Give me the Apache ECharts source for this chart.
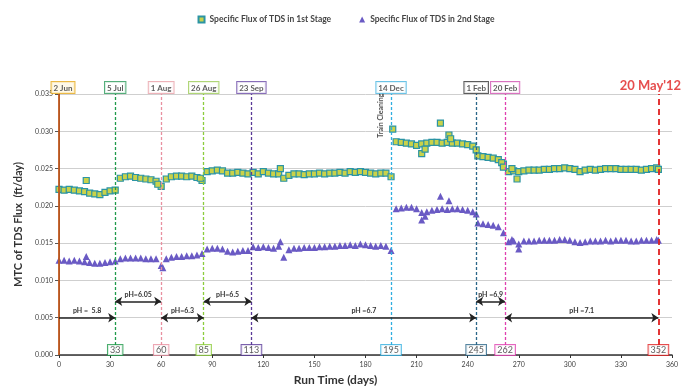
<!DOCTYPE html>
<html>
<head>
<meta charset="utf-8">
<script src="https://cdn.jsdelivr.net/npm/echarts@6/dist/echarts.min.js"></script>
<style>
  html, body { margin: 0; padding: 0; background: #fff; }
  #chart { width: 692px; height: 391px; }
</style>
</head>
<body>
<div id="chart"></div>
<script>
// 运行天数（约每3天一个点）
var days = [0, 3, 6, 9, 12, 15, 18, 21, 24, 27, 30, 33,
  36, 39, 42, 45, 48, 51, 54, 57, 60,
  63, 66, 69, 72, 75, 78, 81, 84,
  87, 90, 93, 96, 99, 102, 105, 108, 111,
  114, 117, 120, 123, 126, 129, 132, 135, 138, 141, 144, 147, 150, 153, 156, 159, 162, 165, 168, 171, 174, 177, 180, 183, 186, 189, 192, 195,
  198, 201, 204, 207, 210, 213, 216, 219, 222, 225, 228, 231, 234, 237, 240, 243,
  246, 249, 252, 255, 258, 261,
  264, 267, 270, 273, 276, 279, 282, 285, 288, 291, 294, 297, 300, 303, 306, 309, 312, 315, 318, 321, 324, 327, 330, 333, 336, 339, 342, 345, 348, 351, 352];

// 1st stage
var stage1 = [0.0222, 0.0221, 0.0222, 0.0221, 0.0220, 0.0219, 0.0217, 0.0216, 0.0215, 0.0218, 0.0220, 0.0221,
  0.0237, 0.0239, 0.0240, 0.0238, 0.0237, 0.0236, 0.0235, 0.0233, 0.0226,
  0.0236, 0.0239, 0.0240, 0.0240, 0.0239, 0.0240, 0.0238, 0.0234,
  0.0246, 0.0247, 0.0248, 0.0247, 0.0244, 0.0244, 0.0245, 0.0244, 0.0243,
  0.0245, 0.0243, 0.0246, 0.0244, 0.0243, 0.0243, 0.0237, 0.0241, 0.0243, 0.0243, 0.0242, 0.0243, 0.0243, 0.0244, 0.0243, 0.0244, 0.0244, 0.0245, 0.0244, 0.0246, 0.0245, 0.0246, 0.0245, 0.0244, 0.0243, 0.0244, 0.0244, 0.0239,
  0.0286, 0.0285, 0.0284, 0.0283, 0.0281, 0.0283, 0.0284, 0.0285, 0.0285, 0.0284, 0.0285, 0.0284, 0.0284, 0.0283, 0.0282, 0.0280,
  0.0267, 0.0266, 0.0265, 0.0264, 0.0262, 0.0256,
  0.0246, 0.0247, 0.0246, 0.0247, 0.0248, 0.0248, 0.0248, 0.0249, 0.0249, 0.0250, 0.0250, 0.0251, 0.0250, 0.0249, 0.0246, 0.0248, 0.0249, 0.0248, 0.0249, 0.0250, 0.0250, 0.0250, 0.0249, 0.0249, 0.0249, 0.0249, 0.0248, 0.0249, 0.0250, 0.0251, 0.0249];
var stage1OutDays = [16, 58, 83, 130, 196, 213, 215, 224, 229, 230, 245, 260, 261, 266, 269];
var stage1OutVals = [0.0234, 0.0229, 0.0237, 0.0250, 0.0303, 0.0270, 0.0276, 0.0311, 0.0295, 0.0290, 0.0275, 0.0258, 0.0252, 0.0250, 0.0236];

// 2nd stage
var stage2 = [0.0127, 0.0127, 0.0126, 0.0127, 0.0126, 0.0125, 0.0124, 0.0123, 0.0123, 0.0124, 0.0125, 0.0126,
  0.0129, 0.0130, 0.0130, 0.0130, 0.0130, 0.0129, 0.0129, 0.0129, 0.0120,
  0.0129, 0.0131, 0.0132, 0.0132, 0.0133, 0.0133, 0.0134, 0.0136,
  0.0142, 0.0143, 0.0143, 0.0142, 0.0139, 0.0138, 0.0139, 0.0140, 0.0140,
  0.0145, 0.0144, 0.0145, 0.0144, 0.0143, 0.0146, 0.0131, 0.0141, 0.0143, 0.0143, 0.0144, 0.0144, 0.0144, 0.0145, 0.0145, 0.0146, 0.0146, 0.0147, 0.0147, 0.0148, 0.0147, 0.0149, 0.0148, 0.0147, 0.0146, 0.0147, 0.0146, 0.0140,
  0.0196, 0.0197, 0.0198, 0.0198, 0.0196, 0.0191, 0.0192, 0.0194, 0.0195, 0.0196, 0.0195, 0.0196, 0.0196, 0.0195, 0.0194, 0.0192,
  0.0177, 0.0176, 0.0175, 0.0174, 0.0172, 0.0164,
  0.0152, 0.0153, 0.0149, 0.0153, 0.0153, 0.0153, 0.0154, 0.0154, 0.0154, 0.0154, 0.0155, 0.0155, 0.0154, 0.0152, 0.0151, 0.0152, 0.0153, 0.0153, 0.0153, 0.0154, 0.0153, 0.0154, 0.0154, 0.0154, 0.0153, 0.0153, 0.0154, 0.0154, 0.0154, 0.0155, 0.0154];
var stage2OutDays = [16, 61, 130, 213, 215, 224, 229, 245, 266, 270];
var stage2OutVals = [0.0132, 0.0117, 0.0152, 0.0181, 0.0186, 0.0213, 0.0207, 0.0189, 0.0155, 0.0142];

// 事件日期（竖线）
var markDays = [0, 33, 60, 85, 113, 195, 245, 262, 352];
var markDates = ['2 Jun', '5 Jul', '1 Aug', '26 Aug', '23 Sep', '14 Dec', '1 Feb', '20 Feb', "20 May'12"];

// pH 区间
var phStart = [0, 33, 60, 85, 113, 245, 262];
var phEnd = [33, 60, 85, 113, 245, 262, 352];
var phLevel = [0.005, 0.0072, 0.005, 0.0072, 0.005, 0.0072, 0.005];
var phText = ['pH =  5.8', 'pH=6.05', 'pH=6.3', 'pH=6.5', 'pH =6.7', 'pH =6.9', 'pH =7.1'];

var cleanDay = 189, cleanVal = 0.0321;

var yMax = 0.035;
var name1 = 'Specific Flux of TDS in 1st Stage';
var name2 = 'Specific Flux of TDS in 2nd Stage';

// 样式
var lineColors = ['#c0581e', '#1f9a4a', '#e890a0', '#8ccc3c', '#5a3a98', '#30aee0', '#2a6688', '#e040b0', '#e02020'];
var topBoxColors = ['#e6a817', '#2a9a5a', '#e8a0a8', '#9ccc55', '#6a4aa8', '#46b4e0', '#333333', '#d050b0', null];
var font = 'Lato, "Open Sans", sans-serif';

function pairs(xs, ys) {
  return xs.map(function (x, i) { return [x, ys[i]]; });
}

var chart = echarts.init(document.getElementById('chart'));

var vLines = markDays.map(function (d, i) {
  return {
    xAxis: d,
    lineStyle: {
      color: lineColors[i],
      type: i === 0 ? 'solid' : (i === markDays.length - 1 ? [6, 4] : [3, 2]),
      width: (i === 0 || i === markDays.length - 1) ? 1.8 : 1.3
    }
  };
});

var phLines = phStart.map(function (s, i) {
  return [
    { coord: [s, phLevel[i]], name: phText[i], symbol: i === 0 ? 'none' : 'arrow' },
    { coord: [phEnd[i], phLevel[i]], symbol: 'arrow' }
  ];
});

var topLabels = markDays.map(function (d, i) {
  var last = i === markDays.length - 1;
  return {
    value: [d, yMax],
    label: last ? {
      color: '#e02020', fontSize: 13, fontWeight: 'bold', borderWidth: 0, backgroundColor: 'transparent',
      offset: [-8, -1], padding: 0
    } : {
      borderColor: topBoxColors[i],
      backgroundColor: i === 0 ? '#fff8e2' : '#fff',
      offset: i === 0 ? [4, 0] : [0, 0]
    }
  };
});

var bottomLabels = markDays.slice(1).map(function (d, i) {
  return { value: [d, 0], label: { borderColor: lineColors[i + 1] } };
});

var option = {
  animation: false,
  backgroundColor: '#fff',
  textStyle: { fontFamily: font },
  legend: {
    data: [name1, name2],
    top: 10,
    left: 'center',
    itemWidth: 6,
    itemHeight: 6,
    itemGap: 28,
    textStyle: { fontSize: 8.5, fontWeight: 'bold', color: '#444', fontFamily: font }
  },
  grid: { left: 59, right: 20, top: 94, bottom: 34 },
  xAxis: {
    type: 'value',
    min: 0, max: 360, interval: 30,
    name: 'Run Time (days)',
    nameLocation: 'middle',
    nameGap: 19,
    nameTextStyle: { fontSize: 12, fontWeight: 'bold', color: '#333', padding: [0, 60, 0, 0] },
    axisLine: { lineStyle: { color: '#333', width: 1.5 } },
    axisTick: { length: 3, lineStyle: { color: '#333' } },
    axisLabel: { fontSize: 7, color: '#444', margin: 6 },
    splitLine: { show: false }
  },
  yAxis: {
    type: 'value',
    min: 0, max: yMax, interval: 0.005,
    name: 'MTC of TDS Flux  (ft/day)',
    nameLocation: 'middle',
    nameGap: 35,
    nameTextStyle: { fontSize: 11, fontWeight: 'bold', color: '#333' },
    axisLine: { show: true, lineStyle: { color: '#555' } },
    axisTick: { show: true, length: 4, lineStyle: { color: '#555' } },
    axisLabel: { fontSize: 7, color: '#444', margin: 6, formatter: function (v) { return v.toFixed(3); } },
    splitLine: { lineStyle: { color: '#cfcfcf', width: 1 } }
  },
  series: [
    {
      type: 'scatter', data: [], silent: true, z: 1,
      markLine: { silent: true, symbol: 'none', label: { show: false }, data: vLines, animation: false }
    },
    {
      name: name1, type: 'scatter', z: 3,
      data: pairs(days, stage1).concat(pairs(stage1OutDays, stage1OutVals)),
      symbol: 'rect', symbolSize: 6,
      itemStyle: { color: '#c9d24a', borderColor: '#2b94a4', borderWidth: 1.2, opacity: 1 }
    },
    {
      name: name2, type: 'scatter', z: 3,
      data: pairs(days, stage2).concat(pairs(stage2OutDays, stage2OutVals)),
      symbol: 'triangle', symbolSize: 7,
      itemStyle: { color: '#6a5ac4', opacity: 1 }
    },
    {
      type: 'scatter', data: [], silent: true, z: 4,
      markLine: {
        silent: true, symbolSize: 7,
        lineStyle: { color: '#222', width: 1.5, type: 'solid' },
        label: { show: true, position: 'middle', formatter: '{b}', fontSize: 7, fontWeight: 'bold', color: '#333', distance: 3 },
        data: phLines
      }
    },
    {
      type: 'scatter', silent: true, z: 5, symbolSize: 0,
      data: topLabels,
      label: {
        show: true, position: 'top', distance: 1,
        formatter: function (p) { return markDates[p.dataIndex]; },
        fontSize: 8, fontWeight: 'bold', color: '#333', borderWidth: 1, padding: [2, 2, 1, 2]
      }
    },
    {
      type: 'scatter', silent: true, z: 5, symbolSize: 0,
      data: bottomLabels,
      label: {
        show: true, position: 'top', distance: 0,
        formatter: function (p) { return String(p.value[0]); },
        fontSize: 9, color: '#333', borderWidth: 1, backgroundColor: '#fff', padding: [1, 2, 0, 2]
      }
    },
    {
      type: 'scatter', silent: true, z: 5, symbolSize: 0,
      data: [[cleanDay, cleanVal]],
      label: {
        show: true, position: 'inside', rotate: 90,
        formatter: 'Train Cleaning', fontSize: 7, fontWeight: 'bold', color: '#222'
      }
    }
  ]
};

chart.setOption(option);
</script>
</body>
</html>
